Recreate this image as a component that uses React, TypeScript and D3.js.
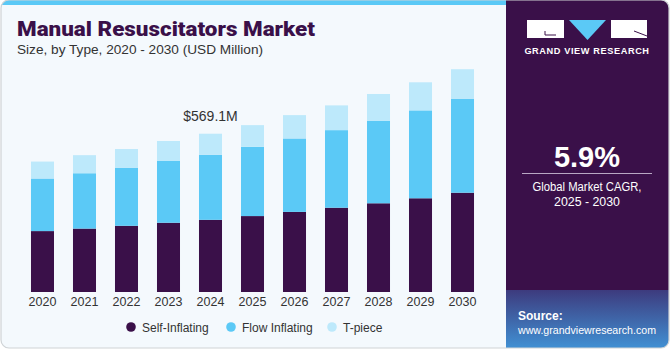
import React from 'react';
import * as d3 from 'd3';

const years = ['2020', '2021', '2022', '2023', '2024', '2025', '2026', '2027', '2028', '2029', '2030'];
const selfInflating = [219, 228, 238, 249, 259.5, 273, 288, 303, 319, 337, 357];
const flowInflating = [189, 199, 209, 222, 234, 249, 264, 279, 297, 316, 337];
const tPiece = [61, 65, 67, 72, 75.6, 78, 84, 89, 96, 101, 107];
const seriesKeys = ['Self-Inflating', 'Flow Inflating', 'T-piece'];
const colors = ['#3a1049', '#5bc9f6', '#bde9fb'];

const W = 670;
const H = 350;
const font = '"Liberation Sans", Arial, sans-serif';

const App = () => {
  const rows = years.map((year, i) => ({
    year,
    'Self-Inflating': selfInflating[i],
    'Flow Inflating': flowInflating[i],
    'T-piece': tPiece[i],
  }));

  const x = d3.scaleBand().domain(years).range([12, 493]).paddingInner(0.452).paddingOuter(0.452);
  const y = d3.scaleLinear().domain([0, 800]).range([292, 69.5]);
  const stack = d3.stack<any>().keys(seriesKeys)(rows);

  const i2024 = years.indexOf('2024');
  const total2024 = selfInflating[i2024] + flowInflating[i2024] + tPiece[i2024];

  const legendX = [131, 231, 332];

  return (
    <svg width={W} height={H} style={{ position: 'absolute', left: 0, top: 0, display: 'block' }}>
      <defs>
        <linearGradient id="srcGrad" x1="0" y1="0" x2="0" y2="1">
          <stop offset="0%" stopColor="#3d3b7e" />
          <stop offset="100%" stopColor="#4193d6" />
        </linearGradient>
        <clipPath id="cardClip">
          <rect x={1} y={0} width={W - 2} height={H - 2} rx={8} />
        </clipPath>
      </defs>
      <g clipPath="url(#cardClip)">
        <rect x={0} y={0} width={W} height={H} fill="#f4f9fd" />
        <rect x={0} y={0} width={506} height={5} fill="#5bc9f6" />
        <rect x={506} y={0} width={W - 506} height={290} fill="#3a1049" />
        <rect x={506} y={290} width={W - 506} height={H - 290} fill="url(#srcGrad)" />
      </g>
      <rect x={1} y={0} width={W - 2} height={H - 2} rx={8} fill="none" stroke="#cfd3d6" strokeWidth={1.2} />

      <text x={17} y={36} fontFamily="Roboto, sans-serif" fontWeight={900} fontSize={19.5} fill="#3a1049"
        textLength={298} lengthAdjust="spacingAndGlyphs">
        Manual Resuscitators Market
      </text>
      <text x={17} y={54} fontFamily={font} fontSize={13} fill="#333" textLength={246} lengthAdjust="spacingAndGlyphs">
        Size, by Type, 2020 - 2030 (USD Million)
      </text>

      {stack.map((layer, li) => (
        <g key={layer.key} fill={colors[li]}>
          {layer.map((d: any) => (
            <rect
              key={d.data.year}
              x={x(d.data.year)}
              y={y(d[1])}
              width={x.bandwidth()}
              height={y(d[0]) - y(d[1])}
            />
          ))}
        </g>
      ))}

      <text
        x={(x('2024') as number) + x.bandwidth() / 2}
        y={y(total2024) - 13}
        textAnchor="middle"
        fontFamily={font}
        fontSize={14}
        fill="#333"
      >
        ${total2024.toFixed(1)}M
      </text>

      {years.map((yr) => (
        <text
          key={yr}
          x={(x(yr) as number) + x.bandwidth() / 2}
          y={306}
          textAnchor="middle"
          fontFamily={font}
          fontSize={12.5}
          fill="#333"
        >
          {yr}
        </text>
      ))}

      {seriesKeys.map((k, i) => (
        <g key={k}>
          <circle cx={legendX[i]} cy={327} r={4.8} fill={colors[i]} />
          <text x={legendX[i] + 11} y={331.5} fontFamily={font} fontSize={12} fill="#333">
            {k}
          </text>
        </g>
      ))}

      {/* logo */}
      <rect x={527} y={20} width={37} height={18} fill="#fff" />
      <path d="M545,31 L545,35 L556,35" fill="none" stroke="#3a1049" strokeWidth={1} />
      <path d="M569,20 L606,20 L587.5,40 Z" fill="#5bc9f6" />
      <rect x={611} y={20} width={36} height={18} fill="#fff" />
      <path d="M634,31 L647,36" fill="none" stroke="#3a1049" strokeWidth={1} />
      <text x={587} y={54} textAnchor="middle" fontFamily={font} fontWeight={700} fontSize={9.2} fill="#fff" letterSpacing={0.6}>
        GRAND VIEW RESEARCH
      </text>

      <text x={587} y={167} textAnchor="middle" fontFamily={font} fontWeight={700} fontSize={29} fill="#fff">
        5.9%
      </text>
      <line x1={522} x2={652} y1={173.5} y2={173.5} stroke="#b9a8c4" strokeWidth={1} />
      <text x={587} y={191} textAnchor="middle" fontFamily={font} fontSize={12.5} fill="#fff"
        textLength={109} lengthAdjust="spacingAndGlyphs">
        Global Market CAGR,
      </text>
      <text x={587} y={206} textAnchor="middle" fontFamily={font} fontSize={12.5} fill="#fff"
        textLength={66} lengthAdjust="spacingAndGlyphs">
        2025 - 2030
      </text>

      <text x={518} y={320} fontFamily={font} fontWeight={700} fontSize={12} fill="#fff">
        Source:
      </text>
      <text x={518} y={334} fontFamily={font} fontSize={10.8} fill="#fff" textLength={138} lengthAdjust="spacingAndGlyphs">
        www.grandviewresearch.com
      </text>
    </svg>
  );
};

export default App;
